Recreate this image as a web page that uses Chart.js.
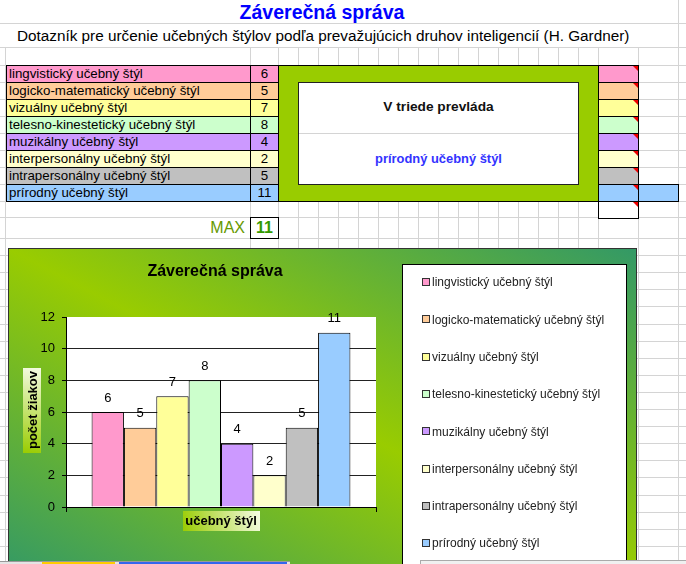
<!DOCTYPE html>
<html>
<head>
<meta charset="utf-8">
<script src="https://cdn.jsdelivr.net/npm/chart.js@4.4.0/dist/chart.umd.min.js"></script>
<style>
  body { margin: 0; width: 686px; height: 564px; overflow: hidden; position: relative; background: #fff;
         font-family: Arial, "Liberation Sans", sans-serif; }
  .abs { position: absolute; box-sizing: border-box; }
  .cell { position: absolute; box-sizing: border-box; border: 1px solid #000; font-size: 13.3px;
          line-height: 16px; white-space: nowrap; }
  .tri { position: absolute; right: 0; top: 0; width: 0; height: 0;
         border-top: 5px solid #e00; border-left: 5px solid transparent; }
</style>
</head>
<body>
<div id="sheet"></div>

<div class="abs" style="left:0;top:0;width:644px;height:23px;line-height:24px;text-align:center;font-weight:bold;font-size:19.5px;color:#0000ff;">Záverečná správa</div>
<div class="abs" style="left:17px;top:24px;height:23px;line-height:23px;font-size:15.3px;color:#000;white-space:nowrap;">Dotazník pre určenie učebných štýlov podľa prevažujúcich druhov inteligencií (H. Gardner)</div>

<div class="abs" style="left:278px;top:65px;width:321px;height:137px;border:1px solid #000;background:#99cc00;"></div>
<div class="abs" style="left:298px;top:82px;width:281px;height:103px;border:1px solid #222;background:#fff;">
  <div class="abs" style="left:0;top:50px;width:279px;height:1px;background:#d4d4d4;"></div>
  <div class="abs" style="left:0;top:16px;width:279px;text-align:center;font-weight:bold;font-size:13.7px;color:#111;">V triede prevláda</div>
  <div class="abs" style="left:0;top:68px;width:279px;text-align:center;font-weight:bold;font-size:12.9px;color:#3333ff;" id="boxWinner"></div>
</div>

<div class="abs" style="left:150px;top:217px;width:95px;height:22px;line-height:22px;text-align:right;font-size:16px;color:#669900;">MAX</div>
<div class="abs" id="maxCell" style="left:250px;top:217px;width:29px;height:22px;line-height:20px;border:1px solid #000;text-align:center;font-weight:bold;font-size:16px;color:#339900;background:#fff;"></div>

<div class="abs" style="left:8px;top:248px;width:629px;height:330px;border:1px solid #333;background:linear-gradient(to top right,#339966 0%,#99cc00 50%,#339966 100%);">
  <canvas id="chart" width="627" height="330"></canvas>
</div>

<div class="abs" style="left:0;top:561px;width:290px;height:3px;background:#e4e4e4;border-top:1px solid #999;"></div>
<div class="abs" style="left:42px;top:562px;width:73px;height:2px;background:#ffcc00;"></div>
<div class="abs" style="left:119px;top:562px;width:168px;height:2px;background:#3366ee;"></div>
<div class="abs" style="left:420px;top:560px;width:266px;height:4px;background:#f0f0f0;border-top:1px solid #aaa;border-left:1px solid #aaa;"></div>

<script>
// data from the sheet
const categories = [
  "lingvistický učebný štýl",
  "logicko-matematický učebný štýl",
  "vizuálny učebný štýl",
  "telesno-kinestetický učebný štýl",
  "muzikálny učebný štýl",
  "interpersonálny učebný štýl",
  "intrapersonálny učebný štýl",
  "prírodný učebný štýl"
];
const counts = [6, 5, 7, 8, 4, 2, 5, 11];
const colors = ["#ff99cc", "#ffcc99", "#ffff99", "#ccffcc", "#cc99ff", "#ffffcc", "#c0c0c0", "#99ccff"];

const FONT = 'Arial, "Liberation Sans", sans-serif';

// spreadsheet grid
function buildSheet() {
  const sheet = document.getElementById("sheet");
  const cols = [5, 250, 278];
  for (let x = 298; x <= 598; x += 20) cols.push(x);
  cols.push(638, 678);
  const rows = [23, 47, 65, 82, 99, 116, 133, 150, 167, 184, 201, 217, 238];
  for (let k = 1; k < 20; k++) rows.push(Math.round(238 + 17.1 * k));
  let html = "";
  rows.forEach(y => { html += `<div class="abs" style="left:0;top:${y}px;width:686px;height:1px;background:#d4d4d4"></div>`; });
  cols.forEach(x => {
    const top = x === 678 ? 0 : 47;
    html += `<div class="abs" style="left:${x}px;top:${top}px;width:1px;height:${564 - top}px;background:#d4d4d4"></div>`;
  });
  // table rows
  const rowTop = 65, rowH = 17;
  categories.forEach((c, i) => {
    const y = rowTop + i * rowH;
    html += `<div class="cell" style="left:6px;top:${y}px;width:245px;height:${rowH + 1}px;background:${colors[i]};padding-left:2px">${c}</div>`;
    html += `<div class="cell" style="left:250px;top:${y}px;width:29px;height:${rowH + 1}px;background:${colors[i]};text-align:center">${counts[i]}</div>`;
    html += `<div class="cell" style="left:598px;top:${y}px;width:41px;height:${rowH + 1}px;background:${colors[i]}"><div class="tri"></div></div>`;
  });
  const maxIdx = counts.indexOf(Math.max(...counts));
  // the winning row stretches one more column
  html += `<div class="cell" style="left:638px;top:${rowTop + maxIdx * rowH}px;width:41px;height:${rowH + 1}px;background:${colors[maxIdx]}"></div>`;
  html += `<div class="cell" style="left:598px;top:${rowTop + 8 * rowH}px;width:41px;height:${rowH + 1}px;background:#fff"><div class="tri"></div></div>`;
  sheet.innerHTML = html;
  document.getElementById("boxWinner").textContent = categories[maxIdx];
  document.getElementById("maxCell").textContent = counts[maxIdx];
}
buildSheet();

function titleBox(ctx, x, y, w, h) {
  const g = ctx.createLinearGradient(x, y + h, x + w, y);
  g.addColorStop(0, "#99cc00");
  g.addColorStop(1, "#f4fbe4");
  ctx.fillStyle = g;
  ctx.fillRect(x, y, w, h);
}

const decor = {
  id: "decor",
  beforeDraw(chart) {
    const a = chart.chartArea;
    chart.ctx.save();
    chart.ctx.fillStyle = "#fff";
    chart.ctx.fillRect(a.left, a.top, a.right - a.left, a.bottom - a.top);
    chart.ctx.restore();
  },
  afterDraw(chart) {
    const ctx = chart.ctx;
    const area = chart.chartArea;
    ctx.save();

    // chart title
    ctx.fillStyle = "#000";
    ctx.textAlign = "center";
    ctx.textBaseline = "middle";
    ctx.font = "bold 16px " + FONT;
    ctx.fillText("Záverečná správa", 206, 23);

    // axis titles
    titleBox(ctx, 14, 119, 18, 85);
    ctx.save();
    ctx.translate(23, 161);
    ctx.rotate(-Math.PI / 2);
    ctx.fillStyle = "#000";
    ctx.font = "bold 13px " + FONT;
    ctx.fillText("počet žiakov", 0, 1);
    ctx.restore();

    titleBox(ctx, 174, area.bottom + 4, 77, 20);
    ctx.fillStyle = "#000";
    ctx.font = "bold 13px " + FONT;
    ctx.fillText("učebný štýl", 212, area.bottom + 14);

    // value labels
    ctx.font = "13px " + FONT;
    chart.data.datasets.forEach((ds, i) => {
      const bar = chart.getDatasetMeta(i).data[0];
      ctx.fillText(String(ds.data[0]), bar.x, bar.y - 14);
    });

    // legend box
    const lx = 393, ly = 15;
    ctx.fillStyle = "#fff";
    ctx.fillRect(lx, ly, 225, 400);
    ctx.strokeStyle = "#000";
    ctx.lineWidth = 1;
    ctx.strokeRect(lx + 0.5, ly + 0.5, 224, 400);
    ctx.textAlign = "left";
    ctx.font = "12px " + FONT;
    chart.data.datasets.forEach((ds, i) => {
      const cy = 33 + 37.3 * i;
      ctx.fillStyle = ds.backgroundColor;
      ctx.fillRect(413.5, Math.round(cy) - 3.5, 7, 7);
      ctx.strokeStyle = "#333";
      ctx.strokeRect(413.5, Math.round(cy) - 3.5, 7, 7);
      ctx.fillStyle = "#222";
      ctx.fillText(ds.label, 423, cy + 1);
    });
    ctx.restore();
  }
};

new Chart(document.getElementById("chart"), {
  type: "bar",
  data: {
    labels: [""],
    datasets: categories.map((c, i) => ({
      label: c,
      data: [counts[i]],
      backgroundColor: colors[i],
      borderColor: "#000",
      borderWidth: 1,
      categoryPercentage: 0.835,
      barPercentage: 1
    }))
  },
  options: {
    responsive: false,
    animation: false,
    layout: { padding: { left: 0, top: 68, right: 260, bottom: 62 } },
    plugins: { legend: { display: false }, title: { display: false }, tooltip: { enabled: false } },
    scales: {
      x: {
        ticks: { display: false },
        grid: { offset: true, drawOnChartArea: false, tickLength: 5, tickColor: "#000" },
        border: { color: "#000" },
        afterFit: s => { s.height = 10; }
      },
      y: {
        min: 0,
        max: 12,
        ticks: { stepSize: 2, color: "#000", padding: 7, font: { family: FONT, size: 13 } },
        grid: {
          color: c => (c.tick && c.tick.value === 12 ? "rgba(0,0,0,0)" : "#222"),
          tickColor: "#000",
          tickLength: 4
        },
        border: { color: "#000" },
        afterFit: s => { s.width = 57; }
      }
    }
  },
  plugins: [decor]
});
</script>
</body>
</html>
